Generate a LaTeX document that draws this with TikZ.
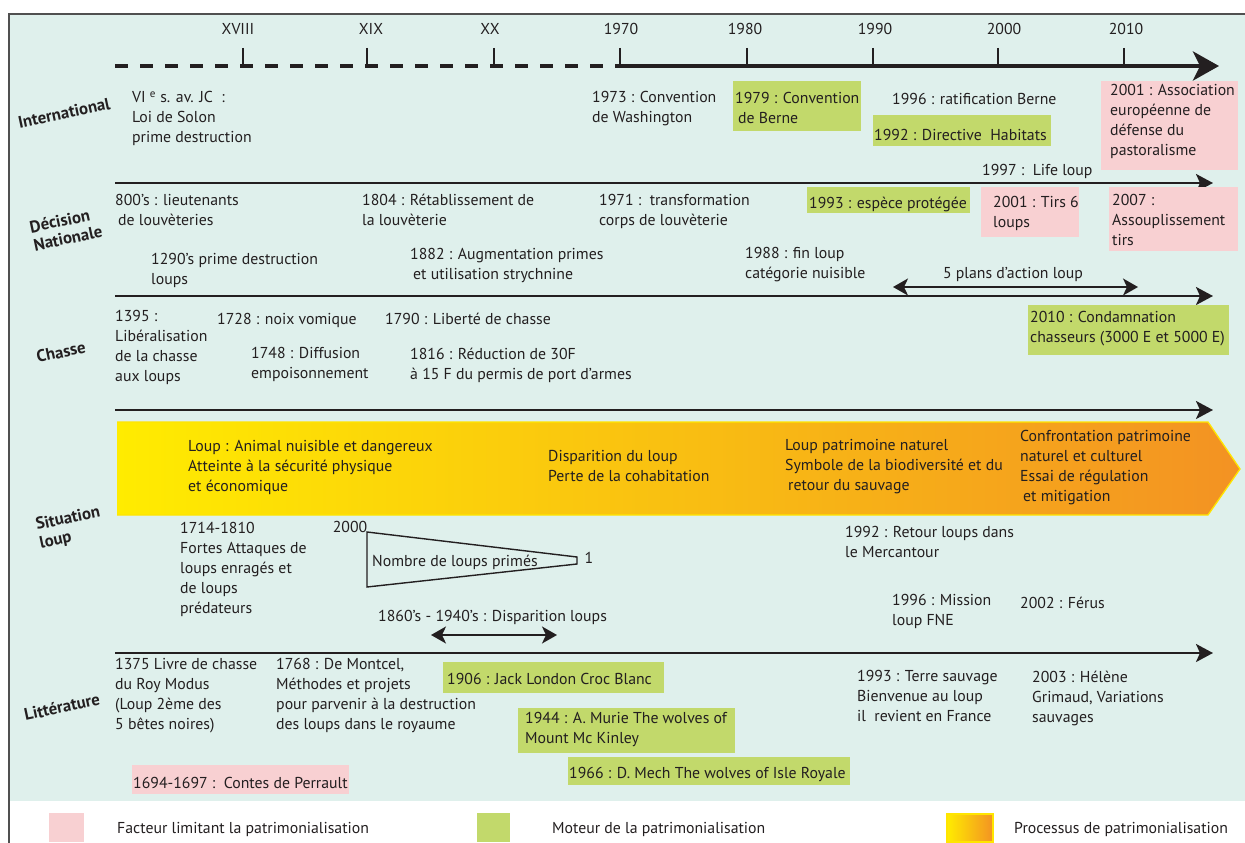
\documentclass[tikz,border=0pt]{standalone}
\usepackage{fontspec}
\setmainfont{PT Sans}
\usetikzlibrary{arrows.meta}
\definecolor{bg}{HTML}{DFF0EC}
\definecolor{grn}{HTML}{C2D96B}
\definecolor{pnk}{HTML}{F8D0D2}
\definecolor{ink}{HTML}{231F20}
\definecolor{frm}{HTML}{505050}
\definecolor{yel}{HTML}{FFEC00}
\definecolor{orm}{HTML}{FAB617}
\definecolor{ora}{HTML}{F39223}
\definecolor{yline}{HTML}{FFE500}
\newcommand\tf{\fontsize{15.8}{20}\selectfont}
\newcommand\ttf{\fontsize{16.8}{18.5}\selectfont\bfseries}
\begin{document}
\begin{tikzpicture}[x=1pt,y=-1pt,
  txt/.style={anchor=north west,inner sep=0pt,align=left,font=\tf,text=ink,execute at begin node=\strut,yshift=-2.5pt},
  ctr/.style={anchor=center,inner sep=0pt,font=\tf,text=ink},
  ttl/.style={anchor=center,inner sep=0pt,align=left,font=\ttf,text=ink,rotate=12},
  axisline/.style={draw=ink,line width=2.4pt,-{Stealth[length=17pt,width=18pt,inset=4pt]}},
  tickline/.style={draw=ink,line width=2pt},
  twoway/.style={draw=ink,line width=1.8pt,{Stealth[length=15pt,width=17pt,inset=4pt]}-{Stealth[length=15pt,width=17pt,inset=4pt]}},
  gbox/.style={fill=grn},
  pbox/.style={fill=pnk}]
\useasboundingbox (0,0) rectangle (1245,843);
% panel
\fill[bg] (9,14) rectangle (1245,801);
\draw[frm,line width=1.5pt] (9,850) -- (9,14) -- (1252,14);

% top time axis
\coordinate (t0) at (115,66);
\coordinate (t1) at (620,66);
\coordinate (t2) at (1219,66);
\draw[ink,line width=4pt,dash pattern=on 13pt off 12pt] (t0) -- (t1);
\draw[ink,line width=4pt,-{Stealth[length=26pt,width=29pt,inset=7pt]}] (t1) -- (t2);
\foreach \x/\c/\l [count=\i] in {243/238/XVIII,367/371/XIX,494/490/XX,620/621/1970,747/745/1980,873/875/1990,998/1004/2000,1124/1126/2010}{
  \coordinate (ka\i) at (\x,48);
  \coordinate (kb\i) at (\x,66);
  \draw[tickline] (ka\i) -- (kb\i);
  \node[ctr] (yr\i) at (\c,29) {\l};
}

% row titles
\node[ttl] (tInt) at (64,113) {International};
\node[ttl] (tDec) at (66,229) {Décision\\Nationale};
\node[ttl] (tCha) at (61,352) {Chasse};
\node[ttl] (tSit) at (70,528) {Situation\\loup};
\node[ttl] (tLit) at (62,707) {Littérature};

% ---------- International
\node[txt] (i1) at (132,89) {VI \textsuperscript{e} s. av. JC\ \ :\\Loi de Solon\\prime destruction};
\node[txt] (i2) at (592,89) {1973 : Convention\\de Washington};
\fill[gbox] (733,81) rectangle (861,131);
\node[txt] (i3) at (735,90) {1979 : Convention\\\hspace{3pt}de Berne};
\node[txt] (i4) at (892,88) {1996 : ratification Berne};
\fill[gbox] (873,115) rectangle (1051,146);
\node[txt] (i5) at (874,124) {1992 : Directive\ \ Habitats};
\fill[pbox] (1101,81) rectangle (1238,170);
\node[txt] (i6) at (1110,82) {2001 : Association\\européenne de\\défense du\\pastoralisme};
\node[txt] (i7) at (982,159) {1997 :\ \ Life loup};

% ---------- Decision nationale
\coordinate (d0) at (115,183);
\coordinate (d1) at (1213,183);
\draw[axisline] (d0) -- (d1);
\node[txt] (n1) at (115,192) {800’s : lieutenants\\\hspace{3pt}de louvèteries};
\node[txt] (n2) at (362,191) {1804 : Rétablissement de\\la louvèterie};
\node[txt] (n3) at (599,192) {1971 :\ \ transformation\\corps de louvèterie};
\fill[gbox] (807,187) rectangle (970,213);
\node[txt] (n4) at (809,192) {1993 : espèce protégée};
\fill[pbox] (981,187) rectangle (1079,237);
\node[txt] (n5) at (993,194) {2001 : Tirs 6\\loups};
\fill[pbox] (1109,187) rectangle (1238,251);
\node[txt] (n6) at (1112,192) {2007 :\\Assouplissement\\tirs};
\node[txt] (n7) at (151,251) {1290’s prime destruction\\loups};
\node[txt] (n8) at (410,246) {1882 : Augmentation primes\\\hspace{3pt}et utilisation strychnine};
\node[txt] (n9) at (745,245) {1988 : fin loup\\catégorie nuisible};
\node[ctr] (n10) at (1013,274) {5 plans d’action loup};
\coordinate (p0) at (893,287);
\coordinate (p1) at (1138,287);
\draw[twoway] (p0) -- (p1);

% ---------- Chasse
\coordinate (c0) at (115,296);
\coordinate (c1) at (1213,296);
\draw[axisline] (c0) -- (c1);
\node[txt] (h1) at (115,308) {1395 :\\Libéralisation\\de la chasse\\aux loups};
\node[txt] (h2) at (217,308) {1728 : noix vomique};
\node[txt] (h3) at (385,308) {1790 : Liberté de chasse};
\node[txt] (h4) at (251,345) {1748 : Diffusion\\empoisonnement};
\node[txt] (h5) at (410,345) {1816 : Réduction de 30F\\à 15 F du permis de port d’armes};
\fill[gbox] (1028,305) rectangle (1229,355);
\node[txt] (h6) at (1030,309) {2010 : Condamnation\\chasseurs (3000 E et 5000 E)};

% ---------- Situation loup
\coordinate (s0) at (115,410);
\coordinate (s1) at (1213,410);
\draw[axisline] (s0) -- (s1);
\shade[left color=yel,middle color=orm,right color=ora] (117,422) -- (1208,422) -- (1240,469) -- (1208,515) -- (117,515) -- cycle;
\draw[yline,line width=1.3pt] (117,422) -- (1208,422) -- (1240,469) -- (1208,515) -- (117,515);
\node[txt] (b1) at (188,438) {Loup : Animal nuisible et dangereux\\Atteinte à la sécurité physique\\et économique};
\node[txt] (b2) at (548,448) {Disparition du loup\\Perte de la cohabitation};
\node[txt] (b3) at (785,437) {Loup patrimoine naturel\\Symbole de la biodiversité et du\\\hspace{3pt}retour du sauvage};
\node[txt] (b4) at (1020,428) {Confrontation patrimoine\\naturel et culturel\\Essai de régulation\\\hspace{3pt}et mitigation};
\node[txt] (s2) at (180,520) {1714-1810\\Fortes Attaques de\\loups enragés et\\de loups\\prédateurs};
\node[ctr] (s3) at (350,527) {2000};
\draw[ink,line width=1.4pt] (367,532) -- (577,557) -- (577,564) -- (367,587) -- cycle;
\node[txt] (s4) at (372,550) {Nombre de loups primés};
\node[ctr] (s5) at (589,558) {1};
\node[txt] (s6) at (378,605) {1860’s - 1940’s : Disparition loups};
\coordinate (w0) at (431,635);
\coordinate (w1) at (557,635);
\draw[twoway] (w0) -- (w1);
\node[txt] (s7) at (845,524) {1992 : Retour loups dans\\le Mercantour};
\node[txt] (s8) at (892,592) {1996 : Mission\\loup FNE};
\node[txt] (s9) at (1020,592) {2002 : Férus};

% ---------- Litterature
\coordinate (l0) at (115,653);
\coordinate (l1) at (1213,653);
\draw[axisline] (l0) -- (l1);
\node[txt] (r1) at (115,656) {1375 Livre de chasse\\du Roy Modus\\(Loup 2ème des\\5 bêtes noires)};
\node[txt] (r2) at (276,656) {1768 : De Montcel,\\Méthodes et projets\\pour parvenir à la destruction\\des loups dans le royaume};
\fill[gbox] (443,662) rectangle (664,693);
\node[txt] (r3) at (447,668) {1906 : Jack London Croc Blanc};
\fill[gbox] (518,708) rectangle (735,753);
\node[txt] (r4) at (525,710) {1944 : A. Murie The wolves of\\Mount Mc Kinley};
\fill[gbox] (568,757) rectangle (850,785);
\node[txt] (r5) at (569,762) {1966 : D. Mech The wolves of Isle Royale};
\fill[pbox] (132,765) rectangle (349,794);
\node[txt] (r6) at (133,772) {1694-1697 :\ \ Contes de Perrault};
\node[txt] (r7) at (857,668) {1993 : Terre sauvage\\Bienvenue au loup\\il\ \ revient en France};
\node[txt] (r8) at (1032,668) {2003 : Hélène\\Grimaud, Variations\\sauvages};

% ---------- legend
\fill[pbox] (49,813) rectangle (84,842);
\node[txt] (g1) at (117,817) {Facteur limitant la patrimonialisation};
\fill[gbox] (477,813) rectangle (510,842);
\node[txt] (g2) at (552,817) {Moteur de la patrimonialisation};
\shade[left color=yel,right color=ora] (947,814) rectangle (993,842);
\draw[yline,line width=1.2pt] (947,814) rectangle (993,842);
\node[txt] (g3) at (1014,817) {Processus de patrimonialisation};
\end{tikzpicture}
\end{document}
